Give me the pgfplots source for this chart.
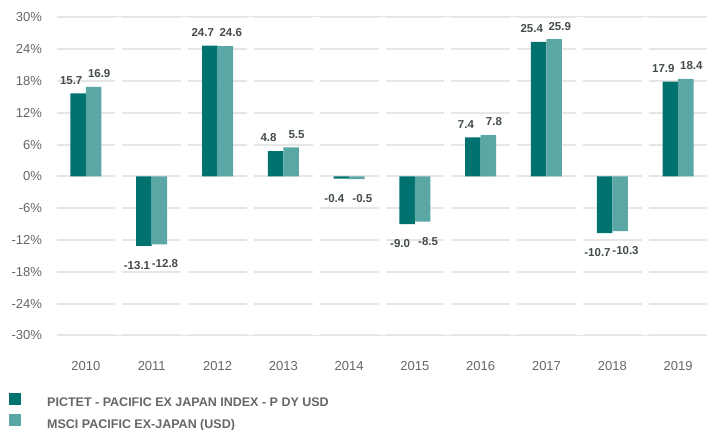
\documentclass[border=0pt]{standalone}
\usepackage{fontspec}
\setmainfont{Liberation Sans}
\usepackage{pgfplots}
\pgfplotsset{compat=1.18}
\definecolor{darkteal}{HTML}{007370}
\definecolor{lightteal}{HTML}{5BA7A6}
\definecolor{gridgray}{HTML}{E6E6E6}
\definecolor{ticklab}{HTML}{666666}
\definecolor{vallab}{HTML}{434B4B}
\definecolor{leglab}{HTML}{666666}
\begin{document}
\begin{tikzpicture}
\useasboundingbox (0pt,0pt) rectangle (708pt,430pt);
\begin{axis}[
  at={(57pt,94.5pt)}, anchor=south west,
  scale only axis, width=650pt, height=318pt,
  xmin=-0.44, xmax=9.44, ymin=-30, ymax=30,
  ybar=0pt, bar width=15.5pt,
  xtick={0,...,9},
  xticklabels={2010,2011,2012,2013,2014,2015,2016,2017,2018,2019},
  ytick={-30,-24,...,30},
  yticklabel={\pgfmathprintnumber{\tick}\%},
  /pgf/number format/assume math mode=true,
  ymajorgrids, major grid style={gridgray, line width=2pt},
  axis line style={draw=none}, major tick length=0pt,
  extra x ticks={0.5,1.5,...,8.5}, extra x tick labels={},
  extra x tick style={grid=major, major grid style={white, line width=7pt}},
  tick label style={font=\fontsize{13}{13}\selectfont, text=ticklab},
  yticklabel style={anchor=east, xshift=-11.5pt},
  xticklabel style={yshift=-22pt},
  nodes near coords={\pgfmathprintnumber[fixed,zerofill,precision=1]{\pgfplotspointmeta}},
  nodes near coords align={vertical},
  every node near coord/.append style={font=\bfseries\fontsize{11.5}{11.5}\selectfont, text=vallab, inner sep=2pt, text height=21.4pt, text depth=7pt},
  legend style={at={(-0.0738,-0.1808)}, anchor=north west, draw=none, fill=none, inner sep=0pt,
    row sep=6pt, column sep=26pt, font=\bfseries\fontsize{12.5}{13}\selectfont, text=leglab,
    nodes={inner sep=0pt}},
  legend cell align=left,
]
\addplot[fill=darkteal, draw=none,
  every node near coord/.append style={xshift=-7pt},
  legend image code/.code={\fill[darkteal] (0pt,-2pt) rectangle (12pt,10pt);}]
  coordinates {(0,15.7) (1,-13.1) (2,24.7) (3,4.8) (4,-0.4) (5,-9.0) (6,7.4) (7,25.4) (8,-10.7) (9,17.9)};
\addlegendentry{PICTET - PACIFIC EX JAPAN INDEX - P DY USD}
\addplot[fill=lightteal, draw=none,
  every node near coord/.append style={xshift=5.5pt},
  legend image code/.code={\fill[lightteal] (0pt,-2pt) rectangle (12pt,10pt);}]
  coordinates {(0,16.9) (1,-12.8) (2,24.6) (3,5.5) (4,-0.5) (5,-8.5) (6,7.8) (7,25.9) (8,-10.3) (9,18.4)};
\addlegendentry{MSCI PACIFIC EX-JAPAN (USD)}
\end{axis}
\end{tikzpicture}
\end{document}
